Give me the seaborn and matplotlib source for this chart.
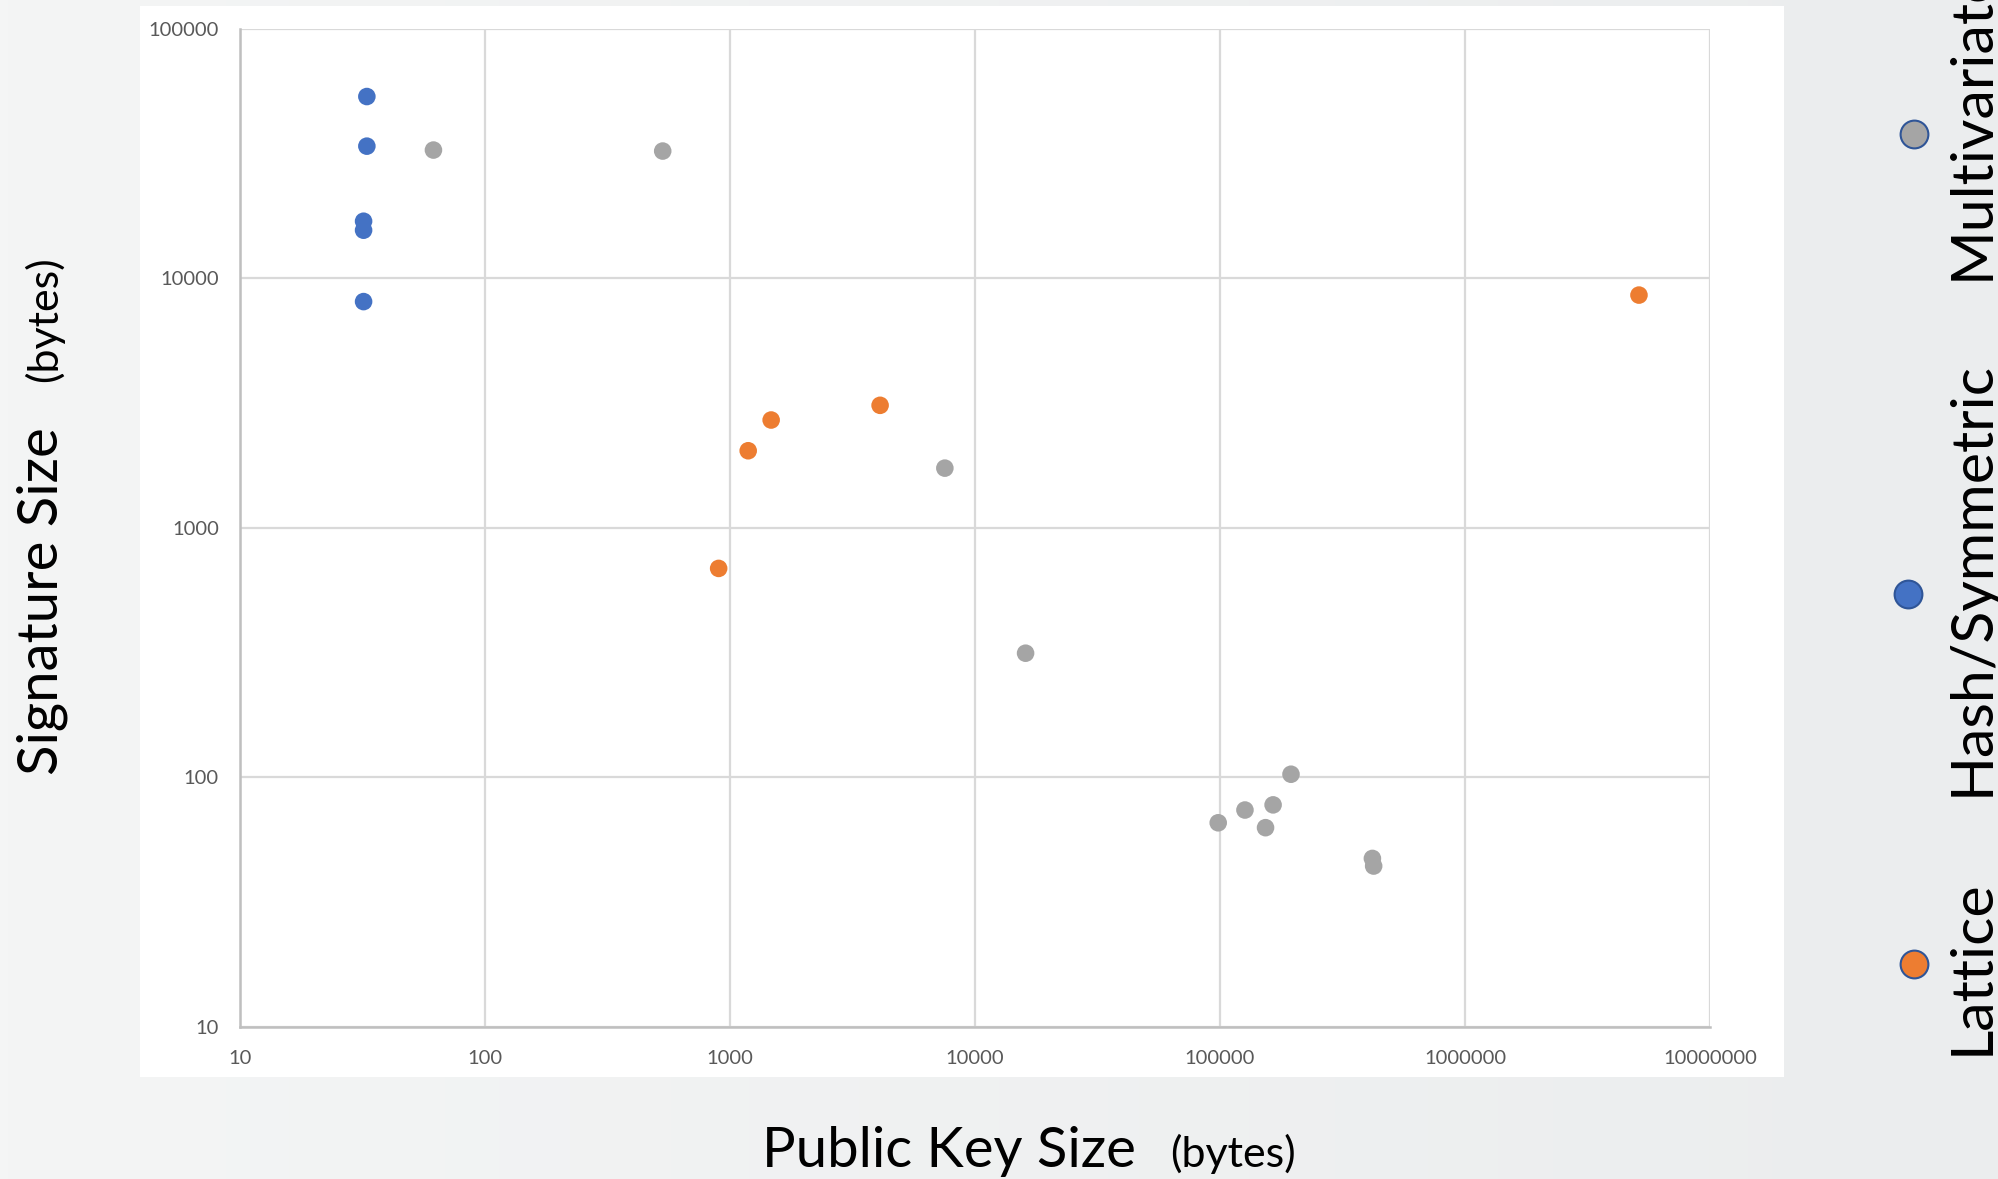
import numpy as np
import pandas as pd
import matplotlib
matplotlib.use("Agg")
import matplotlib.pyplot as plt
import seaborn as sns
from matplotlib.patches import Rectangle
from matplotlib.lines import Line2D
from matplotlib.ticker import FixedLocator, FuncFormatter, NullLocator

# Post-quantum signature schemes: public key size vs signature size (bytes)
lattice_pk = [900, 1188, 1474, 4103, 5130000]
lattice_sig = [687, 2036, 2704, 3097, 8570]

hash_pk = [33, 33, 32, 32, 32]
hash_sig = [53600, 33900, 16950, 15600, 8070]

multivariate_pk = [61.7, 532, 7540, 16100, 98400, 126500, 153500, 164800,
                   195000, 419000, 424000]
multivariate_sig = [32700, 32400, 1734, 314, 65.6, 73.8, 62.7, 77.4,
                    102.7, 47.2, 44]

families = ["Lattice", "Hash/Symmetric", "Multivariate"]
colors = {"Lattice": "#ED7D31", "Hash/Symmetric": "#4472C4",
          "Multivariate": "#A5A5A5"}

x_ticks = [10, 100, 1000, 10000, 100000, 1000000, 10000000]
y_ticks = [10, 100, 1000, 10000, 100000]

df = pd.concat([
    pd.DataFrame({"pk": lattice_pk, "sig": lattice_sig, "family": "Lattice"}),
    pd.DataFrame({"pk": hash_pk, "sig": hash_sig, "family": "Hash/Symmetric"}),
    pd.DataFrame({"pk": multivariate_pk, "sig": multivariate_sig,
                  "family": "Multivariate"}),
], ignore_index=True)

sns.set_style("white")
FONT = ["Lato", "DejaVu Sans"]
plt.rcParams["font.family"] = FONT

W, H = 1998, 1179
fig = plt.figure(figsize=(W / 100, H / 100), dpi=100)

# soft grey backdrop with a gentle horizontal gradient
bg = fig.add_axes([0, 0, 1, 1], zorder=-10)
grad = np.linspace(0, 1, 256)[None, :]
c0 = np.array([0xF4, 0xF5, 0xF5]) / 255
c1 = np.array([0xEB, 0xED, 0xEE]) / 255
img = c0[None, None, :] * (1 - grad[..., None]) + c1[None, None, :] * grad[..., None]
bg.imshow(img, aspect="auto", extent=[0, 1, 0, 1])
bg.set_axis_off()

# white chart panel
fig.add_artist(Rectangle((140 / W, 1 - 1077 / H), (1784 - 140) / W, (1077 - 6) / H,
                         transform=fig.transFigure, facecolor="white",
                         edgecolor="none", zorder=-5))

ax = fig.add_axes([239.8 / W, 1 - 1026.5 / H, (1710 - 239.8) / W, (1026.5 - 29) / H])
ax.set_facecolor("none")

sns.scatterplot(data=df, x="pk", y="sig", hue="family", hue_order=families,
                palette=colors, s=160, linewidth=0, legend=False, ax=ax,
                zorder=3)

ax.set_xscale("log")
ax.set_yscale("log")
ax.set_xlim(10, 1e7)
ax.set_ylim(10, 1e5)
ax.xaxis.set_major_locator(FixedLocator(x_ticks))
ax.yaxis.set_major_locator(FixedLocator(y_ticks))
ax.xaxis.set_minor_locator(NullLocator())
ax.yaxis.set_minor_locator(NullLocator())
fmt = FuncFormatter(lambda v, p: f"{int(round(v))}")
ax.xaxis.set_major_formatter(fmt)
ax.yaxis.set_major_formatter(fmt)
ax.tick_params(axis="both", length=0, labelsize=14.5, labelcolor="#595959")
ax.tick_params(axis="x", pad=17)
ax.tick_params(axis="y", pad=15)

ax.grid(True, color="#D9D9D9", linewidth=1.6, zorder=0)
ax.set_axisbelow(True)
for side in ("top", "right"):
    ax.spines[side].set_visible(False)
for side in ("left", "bottom"):
    ax.spines[side].set_color("#BFBFBF")
    ax.spines[side].set_linewidth(1.8)
ax.set_xlabel("")
ax.set_ylabel("")

# axis titles
fig.text(762 / W, 1 - 1167 / H, "Public Key Size", fontsize=40.5, color="black",
         ha="left", va="baseline")
fig.text(1170 / W, 1 - 1167 / H, "(bytes)", fontsize=31, color="black",
         ha="left", va="baseline")
fig.text(57 / W, 1 - 775 / H, "Signature Size", fontsize=40.5, color="black",
         rotation=90, rotation_mode="anchor", ha="left", va="baseline")
fig.text(57 / W, 1 - 382 / H, "(bytes)", fontsize=31, color="black",
         rotation=90, rotation_mode="anchor", ha="left", va="baseline")

# vertical legend along the right edge
legend_items = [
    ("Lattice", 1914, 964, 1055),
    ("Hash/Symmetric", 1908, 594, 796),
    ("Multivariate", 1914, 134, 280),
]
for name, mx, my, ty in legend_items:
    fig.add_artist(Line2D([mx / W], [1 - my / H], transform=fig.transFigure,
                          marker="o", markersize=20, markerfacecolor=colors[name],
                          markeredgecolor="#2F5597", markeredgewidth=1.5,
                          linestyle="none"))
    fig.text(1989 / W, 1 - ty / H, name, fontsize=42.5, color="black",
             rotation=90, rotation_mode="anchor", ha="left", va="baseline")

fig.savefig("out.png", dpi=100)
